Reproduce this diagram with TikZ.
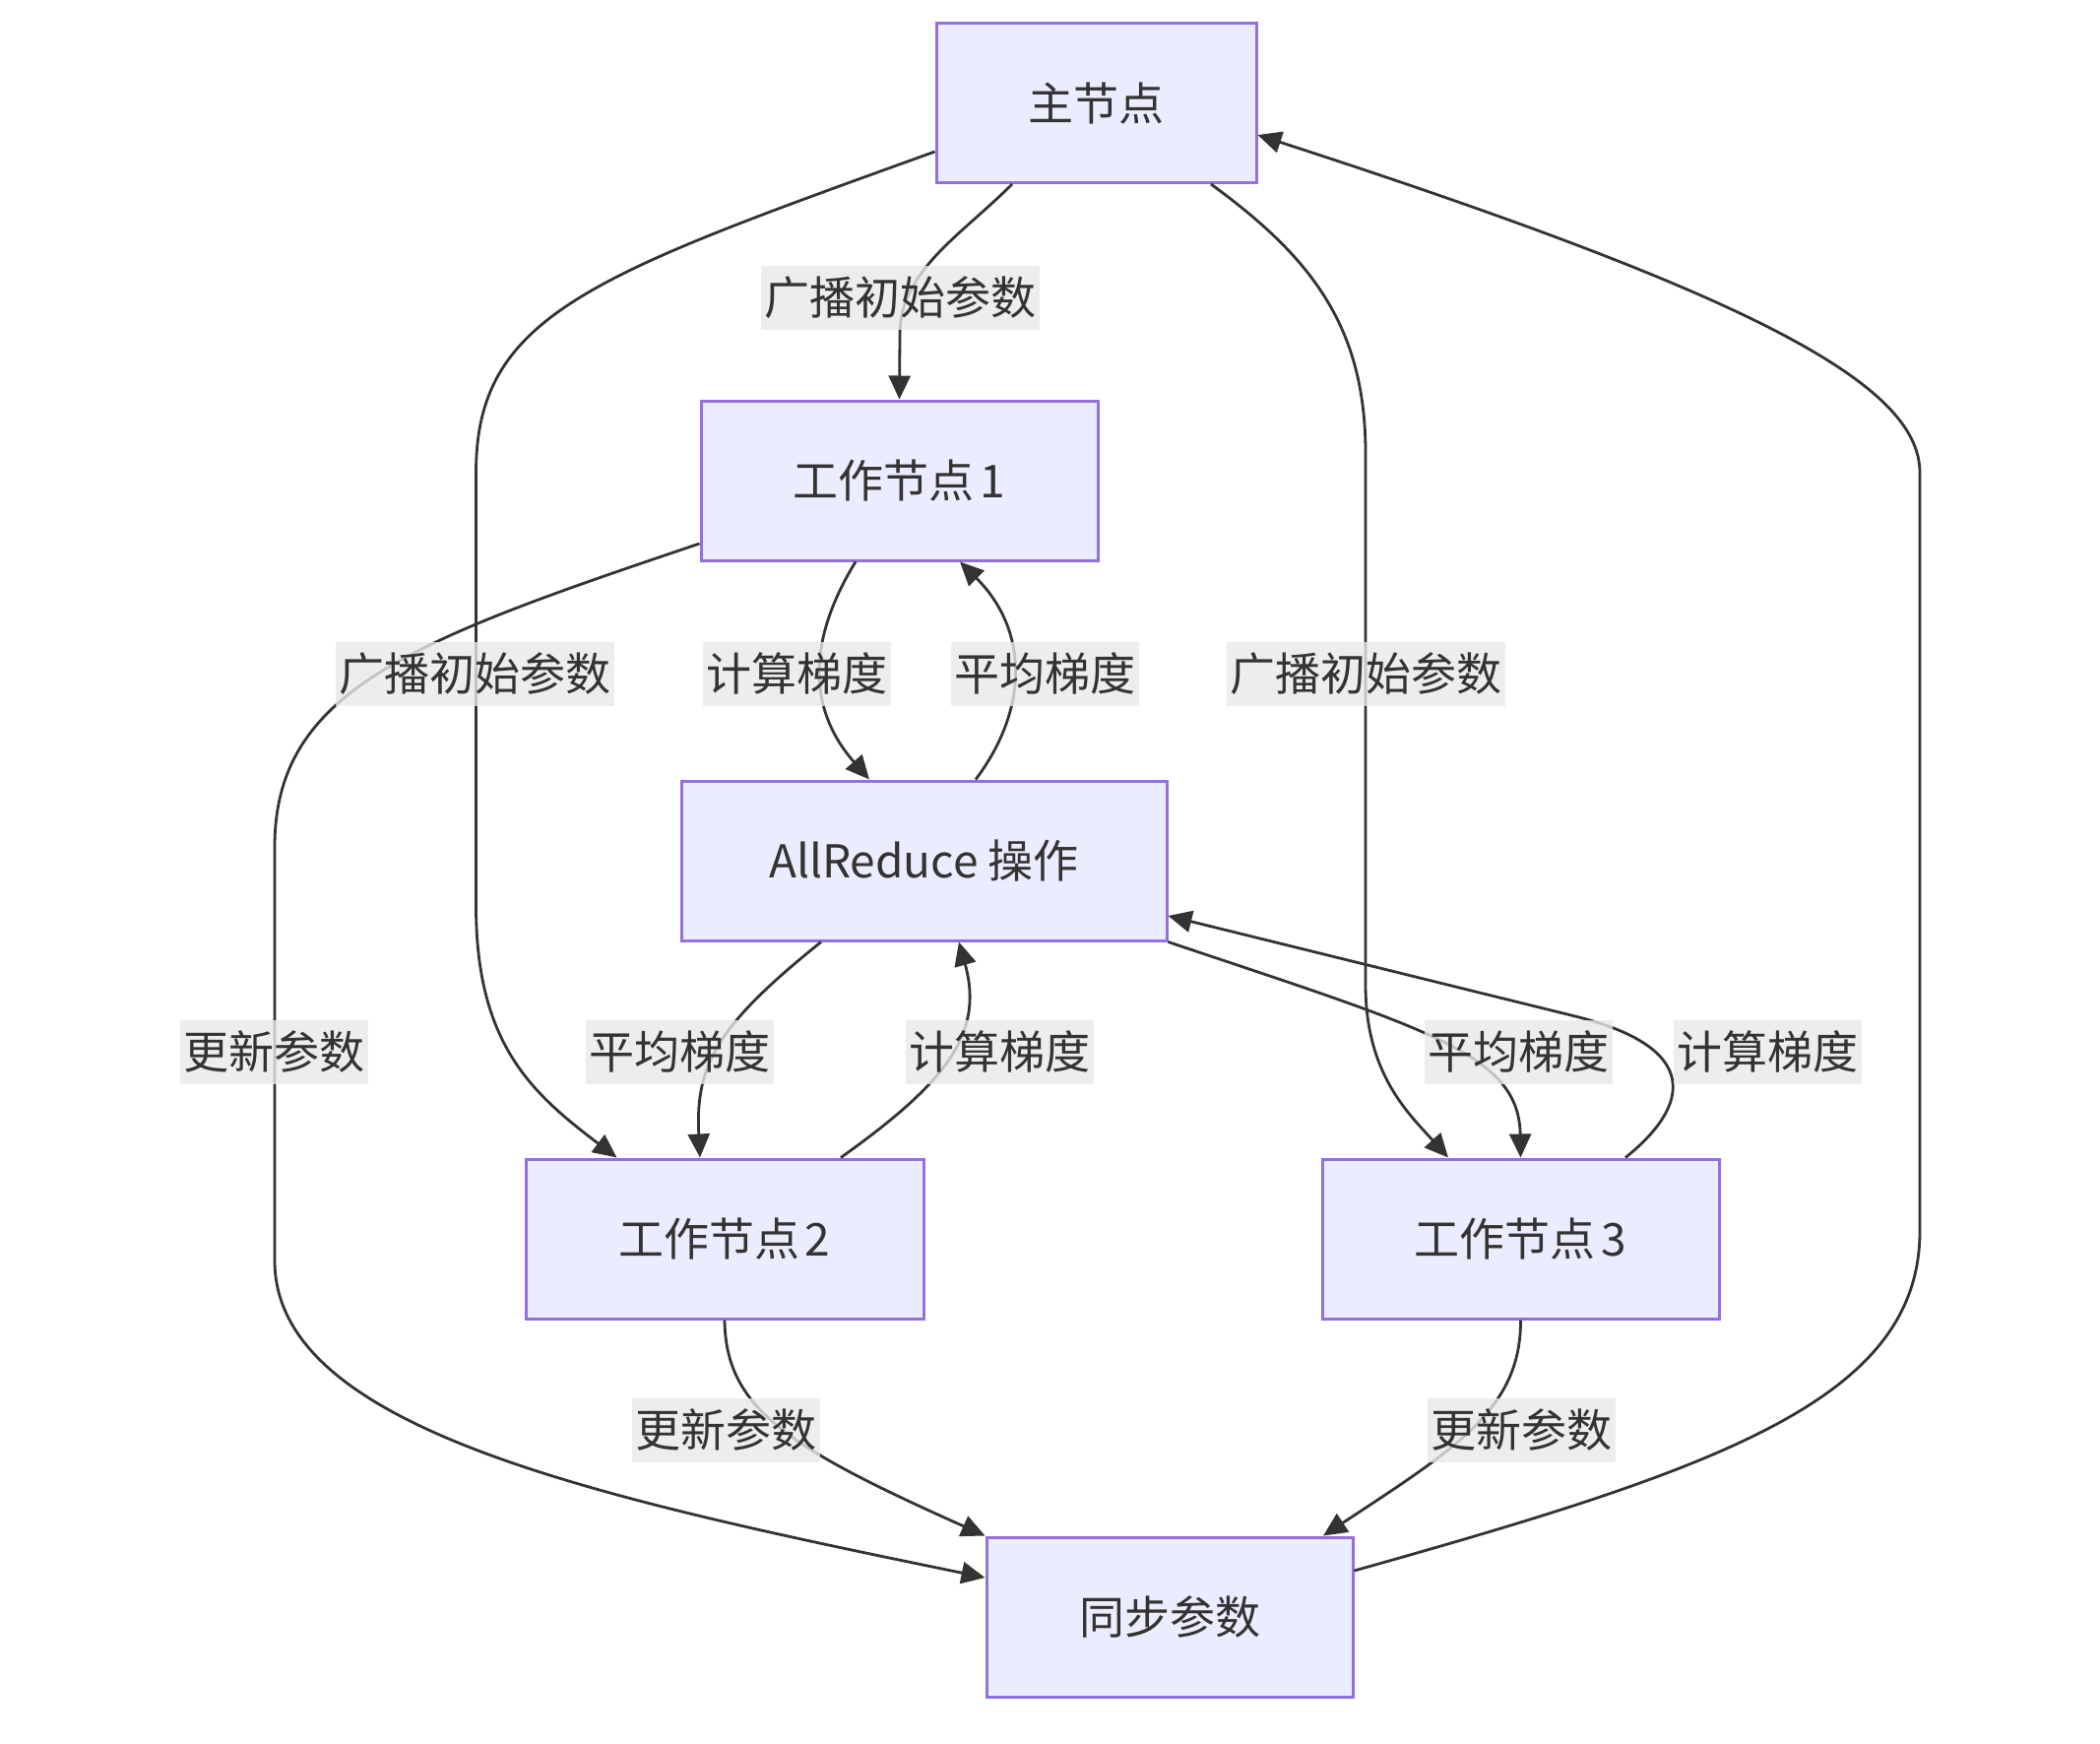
\documentclass[tikz,border=0pt]{standalone}
\usepackage{fontspec}
\setmainfont{Noto Sans CJK SC}
\usetikzlibrary{arrows.meta}
\definecolor{nodefill}{HTML}{ECECFF}
\definecolor{nodeborder}{HTML}{9370DB}
\definecolor{txt}{HTML}{333333}
\definecolor{lblbg}{HTML}{E8E8E8}
\begin{document}
\begin{tikzpicture}[x=1pt,y=-1pt,
  box/.style={draw=nodeborder, fill=nodefill, line width=3pt, minimum height=162pt, text=txt, font=\fontsize{46}{55}\selectfont, inner sep=0pt},
  lbl/.style={fill=lblbg, fill opacity=0.8, text opacity=1, text=txt, font=\fontsize{46}{55}\selectfont, inner xsep=3.5pt, inner ysep=0pt, minimum height=65pt},
  link/.style={draw=txt, line width=2.8pt, -{Triangle[length=24pt,width=22pt]}}
]
\useasboundingbox (0,0) rectangle (2133,1770);
% nodes
\node[box, minimum width=325pt] (m)  at (1113.5,104.5) {主节点};
\node[box, minimum width=403pt] (w1) at (913.5,488) {工作节点\kern0.12em 1};
\node[box, minimum width=493pt] (ar) at (938.5,874) {AllReduce 操作};
\node[box, minimum width=404pt] (w2) at (736,1258) {工作节点\kern0.12em 2};
\node[box, minimum width=403pt] (w3) at (1544.5,1258) {工作节点\kern0.12em 3};
\node[box, minimum width=372pt] (s)  at (1188,1642) {同步参数};
% edges
\draw[link] ([xshift=-85.5pt]m.south) .. controls (975,240) and (914,275) .. (914,340) -- (w1.north);
\draw[link] ([yshift=-49.5pt]m.west) .. controls (600,280) and (483.5,320) .. (483.5,480) -- (483.5,920) .. controls (483.5,1060) and (540,1110) .. ([xshift=-109.5pt]w2.north);
\draw[link] ([xshift=116.5pt]m.south) .. controls (1330,260) and (1387,330) .. (1387,460) -- (1387,1000) .. controls (1387,1090) and (1430,1130) .. ([xshift=-73.5pt]w3.north);
\draw[link] ([xshift=-44.5pt]w1.south) .. controls (820,650) and (820,720) .. ([xshift=-55.5pt]ar.north);
\draw[link] ([xshift=52.5pt]ar.north) .. controls (1045,720) and (1045,640) .. ([xshift=61.5pt]w1.south);
\draw[link] ([xshift=-104.5pt]ar.south) .. controls (730,1040) and (706,1080) .. ([xshift=-25pt]w2.north);
\draw[link] ([xshift=118pt]w2.north) .. controls (960,1100) and (1000,1050) .. ([xshift=35.5pt]ar.south);
\draw[link] (ar.south east) .. controls (1450,1045) and (1543,1070) .. (w3.north);
\draw[link] ([xshift=106.5pt]w3.north) .. controls (1720,1120) and (1725,1063) .. (1600,1032) -- ([yshift=-56pt]ar.east);
\draw[link] ([yshift=-64pt]w1.west) .. controls (420,650) and (279,700) .. (279,860) -- (279,1280) .. controls (279,1450) and (600,1520) .. ([yshift=40pt]s.west);
\draw[link] (w2.south) .. controls (737,1430) and (800,1470) .. (s.north west);
\draw[link] (w3.south) .. controls (1545,1430) and (1480,1470) .. ([xshift=156pt]s.north);
\draw[link] ([yshift=47pt]s.east) .. controls (1750,1490) and (1950,1420) .. (1950,1250) -- (1950,480) .. controls (1950,390) and (1780,300) .. ([yshift=-32.5pt]m.east);
% labels
\node[lbl] (l1) at (914,302) {广播初始参数};
\node[lbl] (l2) at (482,684) {广播初始参数};
\node[lbl] (l3) at (1387,684) {广播初始参数};
\node[lbl] (l4) at (809,684) {计算梯度};
\node[lbl] (l5) at (1061,684) {平均梯度};
\node[lbl] (l6) at (690,1068) {平均梯度};
\node[lbl] (l7) at (1015,1068) {计算梯度};
\node[lbl] (l8) at (1542,1068) {平均梯度};
\node[lbl] (l9) at (1795,1068) {计算梯度};
\node[lbl] (l10) at (278,1068) {更新参数};
\node[lbl] (l11) at (737,1452) {更新参数};
\node[lbl] (l12) at (1545,1452) {更新参数};
\end{tikzpicture}
\end{document}
